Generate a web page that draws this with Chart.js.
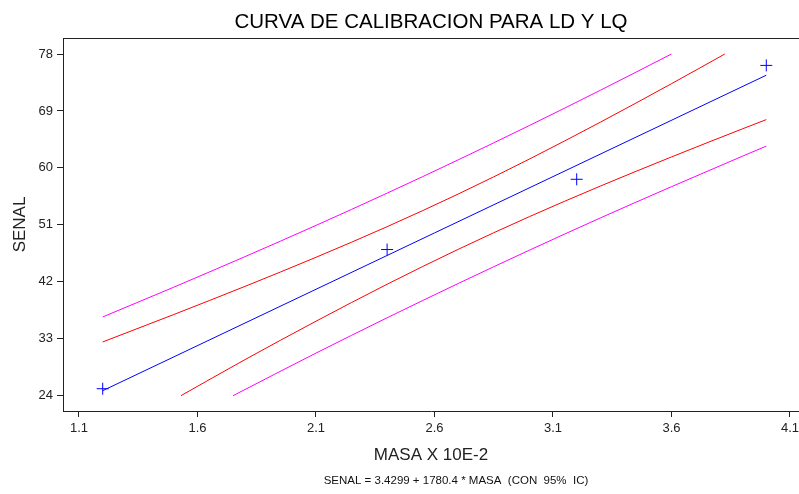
<!DOCTYPE html>
<html lang="es">
<head>
<meta charset="UTF-8">
<title>Curva de calibracion para LD y LQ</title>
<style>
  body { margin: 0; background: #fff; }
  #wrap { width: 799px; height: 494px; }
</style>
<script src="https://cdn.jsdelivr.net/npm/chart.js"></script>
</head>
<body>
<div id="wrap"><canvas id="chart" width="799" height="494"></canvas></div>
<script>
// puntos medidos (masa x 10E-2, senal)
const masaObs = [1.2, 2.4, 3.2, 4.0];
const senalObs = [25.1, 47.1, 58.2, 76.2];

// recta ajustada
const masaFit = [1.2, 4.0];
const senalFit = [24.79, 74.65];

// banda interior (roja)
const masaRojoSup = [1.2, 1.5, 1.8, 2.1, 2.4, 2.7, 3.0, 3.3, 3.6, 3.825];
const senalRojoSup = [32.49, 36.83, 41.27, 45.87, 50.71, 55.87, 61.39, 67.23, 73.31, 78.0];
const masaRojoInf = [1.53, 1.8, 2.1, 2.4, 2.7, 3.0, 3.3, 3.6, 3.9, 4.0];
const senalRojoInf = [24.0, 29.69, 35.77, 41.61, 47.13, 52.29, 57.13, 61.73, 66.18, 67.63];

// banda exterior (magenta)
const masaMagSup = [1.2, 1.5, 1.8, 2.1, 2.4, 2.7, 3.0, 3.3, 3.6];
const senalMagSup = [36.44, 41.15, 45.97, 50.91, 56.01, 61.27, 66.69, 72.27, 78.0];
const masaMagInf = [1.75, 2.1, 2.4, 2.7, 3.0, 3.3, 3.6, 3.9, 4.0];
const senalMagInf = [24.0, 30.73, 36.31, 41.73, 46.99, 52.09, 57.03, 61.86, 63.44];

const xTicks = [1.1, 1.6, 2.1, 2.6, 3.1, 3.6, 4.1];
const yTicks = [24, 33, 42, 51, 60, 69, 78];

const titulo = 'CURVA DE CALIBRACION PARA LD Y LQ';
const nota = 'SENAL = 3.4299 + 1780.4 * MASA  (CON  95%  IC)';

const FONT = '"Liberation Sans", Arial, sans-serif';

function pares(xs, ys) {
    return xs.map((x, i) => ({ x: x, y: ys[i] }));
}

function linea(xs, ys, color) {
    return {
        data: pares(xs, ys),
        showLine: true,
        borderColor: color,
        borderWidth: 1,
        pointRadius: 0,
        cubicInterpolationMode: 'monotone',
        fill: false
    };
}

// top frame line and the footnote under the axis title
const extras = {
    id: 'extras',
    afterDraw(chart) {
        const { ctx, chartArea: a } = chart;
        ctx.save();
        ctx.strokeStyle = '#222';
        ctx.lineWidth = 1;
        ctx.beginPath();
        ctx.moveTo(a.left, Math.round(a.top) + 0.5);
        ctx.lineTo(a.right, Math.round(a.top) + 0.5);
        ctx.stroke();
        ctx.font = '11.5px ' + FONT;
        ctx.fillStyle = '#111';
        ctx.textAlign = 'center';
        ctx.textBaseline = 'middle';
        ctx.fillText(nota, (a.left + a.right) / 2 + 25, chart.height - 13);
        ctx.restore();
    }
};

new Chart(document.getElementById('chart'), {
    type: 'scatter',
    data: {
        datasets: [
            linea(masaMagSup, senalMagSup, '#ff00ff'),
            linea(masaRojoSup, senalRojoSup, '#ff0000'),
            linea(masaFit, senalFit, '#0000ff'),
            linea(masaRojoInf, senalRojoInf, '#ff0000'),
            linea(masaMagInf, senalMagInf, '#ff00ff'),
            {
                data: pares(masaObs, senalObs),
                showLine: false,
                pointStyle: 'cross',
                pointRadius: 6,
                borderColor: '#0000ff',
                borderWidth: 1
            }
        ]
    },
    options: {
        responsive: false,
        animation: false,
        events: [],
        layout: { padding: 0, autoPadding: false },
        plugins: {
            legend: { display: false },
            tooltip: { enabled: false },
            title: {
                display: true,
                text: titulo,
                fullSize: false,
                color: '#000',
                font: { family: FONT, size: 20.5, weight: 'normal' },
                padding: { top: 10, bottom: 3.4 }
            }
        },
        scales: {
            x: {
                type: 'linear',
                min: 1.0325,
                max: 4.138,
                afterBuildTicks: s => { s.ticks = xTicks.map(v => ({ value: v })); },
                afterFit: s => { s.height = 83; s.paddingLeft = 0; s.paddingRight = 0; },
                grid: { drawOnChartArea: false, drawTicks: true, tickLength: 6, color: '#222' },
                border: { display: true, color: '#222', width: 1 },
                ticks: {
                    color: '#222',
                    padding: 4,
                    maxRotation: 0,
                    font: { family: FONT, size: 13 },
                    callback: v => v.toFixed(1)
                },
                title: {
                    display: true,
                    text: 'MASA X 10E-2',
                    color: '#222',
                    font: { family: FONT, size: 17 },
                    padding: { top: 0, bottom: 28 }
                }
            },
            y: {
                type: 'linear',
                min: 21.58,
                max: 80.53,
                afterBuildTicks: s => { s.ticks = yTicks.map(v => ({ value: v })); },
                afterFit: s => { s.width = 63; },
                grid: { drawOnChartArea: false, drawTicks: true, tickLength: 6, color: '#222' },
                border: { display: true, color: '#222', width: 1 },
                ticks: {
                    color: '#222',
                    padding: 4,
                    font: { family: FONT, size: 13 },
                    callback: v => String(v)
                },
                title: {
                    display: true,
                    text: 'SENAL',
                    color: '#222',
                    font: { family: FONT, size: 17 },
                    padding: { top: 10, bottom: 0 }
                }
            }
        }
    },
    plugins: [extras]
});
</script>
</body>
</html>
